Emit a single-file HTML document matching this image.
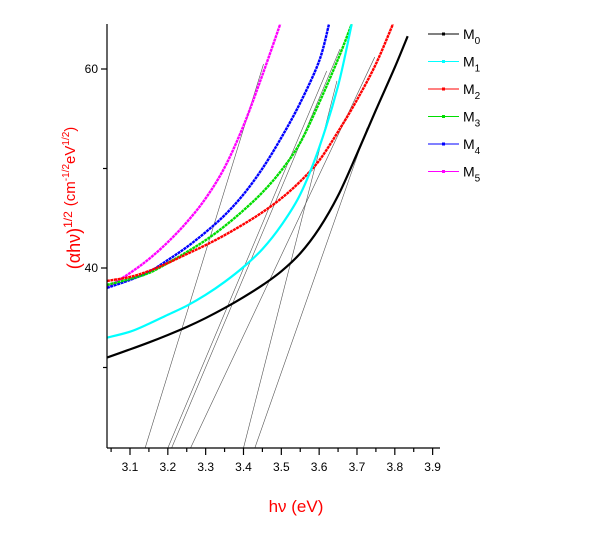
<!DOCTYPE html>
<html><head><meta charset="utf-8"><style>
body{margin:0;background:#fff;}
svg{display:block;font-family:"Liberation Sans",sans-serif;}
</style></head><body>
<svg id="chart" width="601" height="536" viewBox="0 0 601 536"></svg>
<script>
const xTicks=[3.1,3.2,3.3,3.4,3.5,3.6,3.7,3.8,3.9];
const xTickLabels=["3.1","3.2","3.3","3.4","3.5","3.6","3.7","3.8","3.9"];
const yTicks=[40,60];
const yMinorTicks=[30,50];
const seriesNames=["M0","M1","M2","M3","M4","M5"];
const seriesColors=["#000000","#00ffff","#ff0000","#00dd00","#0000ff","#ff00ff"];
const m0x=[3.039,3.1,3.15,3.2,3.25,3.3,3.35,3.4,3.45,3.5,3.55,3.6,3.65,3.7,3.75,3.8,3.834];
const m0y=[31.0,31.82,32.52,33.27,34.07,34.97,35.97,37.07,38.27,39.67,41.47,43.97,47.27,51.47,55.87,60.17,63.3];
const m1x=[3.039,3.1,3.15,3.2,3.25,3.3,3.35,3.4,3.45,3.5,3.55,3.6,3.65,3.686];
const m1y=[33.0,33.6,34.4,35.3,36.2,37.3,38.6,40.1,41.9,44.3,47.4,52.1,58.3,64.5];
const m2x=[3.039,3.1,3.15,3.2,3.25,3.3,3.35,3.4,3.45,3.5,3.55,3.6,3.65,3.7,3.75,3.795];
const m2y=[38.7,39.1,39.7,40.5,41.4,42.3,43.3,44.4,45.6,47.0,48.7,50.8,53.7,56.9,60.5,64.5];
const m3x=[3.039,3.1,3.15,3.2,3.25,3.3,3.35,3.4,3.45,3.5,3.55,3.6,3.65,3.686];
const m3y=[38.3,38.9,39.5,40.5,41.6,42.8,44.2,45.8,47.6,49.8,52.6,56.6,61.0,64.5];
const m4x=[3.039,3.1,3.15,3.2,3.25,3.3,3.35,3.4,3.45,3.5,3.55,3.6,3.626];
const m4y=[38.0,38.8,39.6,40.8,42.1,43.6,45.3,47.4,50.0,53.1,56.6,60.8,64.5];
const m5x=[3.039,3.1,3.15,3.2,3.25,3.3,3.35,3.4,3.45,3.497];
const m5y=[38.0,39.5,40.9,42.6,44.6,47.0,50.1,54.3,59.4,64.5];
const tanX0=[3.14,3.20,3.21,3.26,3.40,3.43];
const tanX1=[3.453,3.62,3.655,3.747,3.647,3.727];
const tanY1=[60.5,59.8,62.0,61.2,58.8,54.1];

const NS="http://www.w3.org/2000/svg";
const svg=document.getElementById('chart');
const X=v=>130+(v-3.1)*378.3;
const Y=v=>268-(v-40)*9.95;
const L=107,R=440,T=24,B=448;
function mk(tag,attrs,parent){const e=document.createElementNS(NS,tag);for(const k in attrs)e.setAttribute(k,attrs[k]);(parent||svg).appendChild(e);return e;}

const defs=mk('defs',{});
const cp=mk('clipPath',{id:'clip'},defs);
mk('rect',{x:L,y:T,width:R-L,height:B-T},cp);

const tg=mk('g',{'clip-path':'url(#clip)'});


for(let i=0;i<tanX0.length;i++){
  const l=mk('line',{x1:X(tanX0[i]),y1:B,x2:X(tanX1[i]),y2:Y(tanY1[i]),stroke:'#555','stroke-width':0.6},tg);
  
  
}

function pathFor(xs,ys){
  const p=xs.map((x,i)=>[X(x),Y(ys[i])]);
  let d='M'+p[0][0]+','+p[0][1];
  for(let i=0;i<p.length-1;i++){
    const p0=p[i-1]||p[i],p1=p[i],p2=p[i+1],p3=p[i+2]||p[i+1];
    const c1=[p1[0]+(p2[0]-p0[0])/6,p1[1]+(p2[1]-p0[1])/6];
    const c2=[p2[0]-(p3[0]-p1[0])/6,p2[1]-(p3[1]-p1[1])/6];
    d+=' C'+c1[0]+','+c1[1]+' '+c2[0]+','+c2[1]+' '+p2[0]+','+p2[1];
  }
  return d;
}
const allX=[m0x,m1x,m2x,m3x,m4x,m5x],allY=[m0y,m1y,m2y,m3y,m4y,m5y];
const cg=mk('g',{'clip-path':'url(#clip)'});
for(let s=5;s>=0;s--){
  const p=mk('path',{d:pathFor(allX[s],allY[s]),fill:'none',stroke:seriesColors[s],'stroke-width':(s<2?2.2:2.4),'stroke-dasharray':(s>=2?'3,0.6':'none')},cg);
  
  
}

const ax=mk('g',{stroke:'#000','stroke-width':1.2});


mk('line',{x1:L,y1:T,x2:L,y2:B},ax);
mk('line',{x1:L,y1:B,x2:R,y2:B},ax);
for(let v=3.05;v<3.93;v+=0.05){
  const major=Math.abs(v*10-Math.round(v*10))<0.01;
  mk('line',{x1:X(v),y1:B,x2:X(v),y2:B+(major?7:4)},ax);
}
xTicks.forEach((v,i)=>{
  const t=mk('text',{x:X(v),y:B+23,'text-anchor':'middle','font-size':12,fill:'#000',stroke:'none'});
  t.textContent=xTickLabels[i];
  
  
});
yTicks.forEach(v=>{
  mk('line',{x1:L-6,y1:Y(v),x2:L,y2:Y(v)},ax);
  const t=mk('text',{x:L-9,y:Y(v)+4,'text-anchor':'end','font-size':12,fill:'#000',stroke:'none'});
  t.textContent=String(v);
  
  
});
yMinorTicks.forEach(v=>mk('line',{x1:L-4,y1:Y(v),x2:L,y2:Y(v)},ax));

const xt=mk('text',{x:296,y:512,'text-anchor':'middle','font-size':17,fill:'#ff0000'});
xt.textContent='hν  (eV)';


const yt=mk('text',{x:0,y:0,'text-anchor':'middle','font-size':18,fill:'#ff0000',transform:'translate(80,198) rotate(-90)'});
yt.innerHTML='(αhν)<tspan font-size="12" dy="-8">1/2</tspan><tspan dy="8"> </tspan><tspan font-size="15" dy="-5">(cm</tspan><tspan font-size="10" dy="-6">-1/2</tspan><tspan font-size="15" dy="6">eV</tspan><tspan font-size="10" dy="-6">1/2</tspan><tspan font-size="15" dy="6">)</tspan>';



const lg=mk('g',{});


seriesNames.forEach((n,i)=>{
  const y=34+i*27.5;
  const e=mk('g',{},lg);
  
  
  mk('line',{x1:428,y1:y,x2:459,y2:y,stroke:seriesColors[i],'stroke-width':1},e);
  mk('rect',{x:442,y:y-1.5,width:3,height:3,fill:seriesColors[i]},e);
  const t=mk('text',{x:463,y:y+5,'font-size':14,fill:'#000'},e);
  t.innerHTML='M<tspan font-size="10" dy="5">'+n.slice(1)+'</tspan>';
});
</script>
</body></html>
